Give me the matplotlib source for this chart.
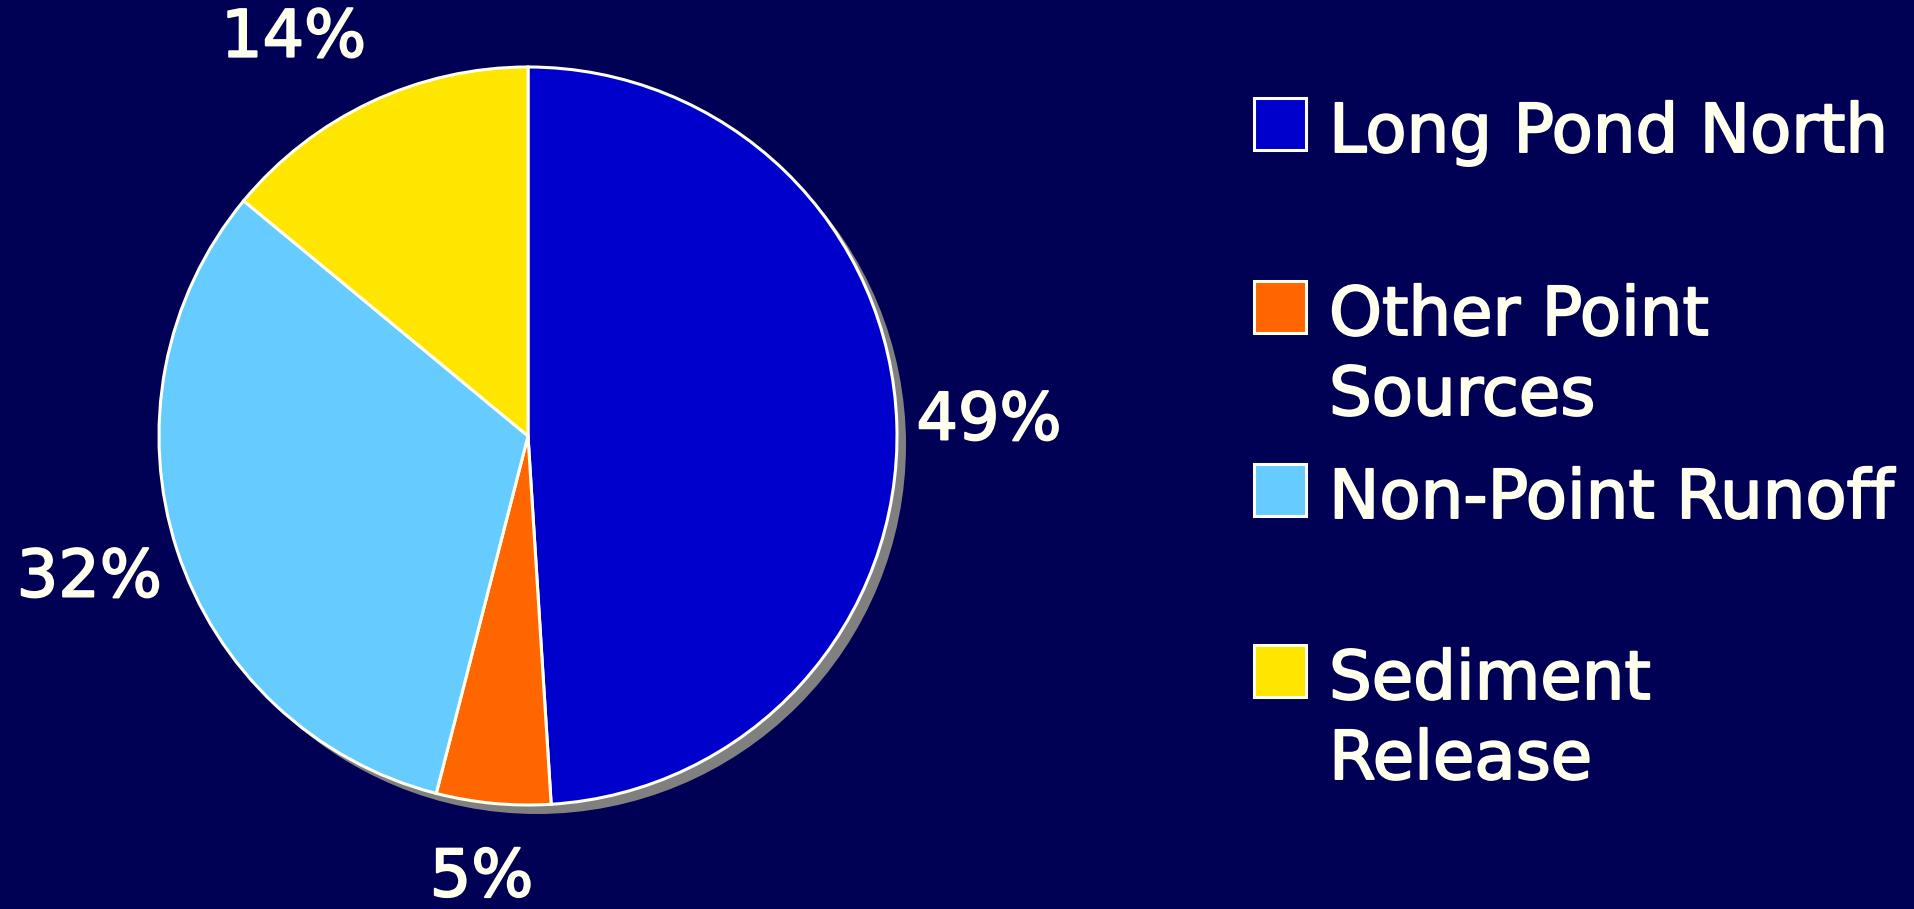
import matplotlib
matplotlib.use("Agg")
import matplotlib.pyplot as plt
import matplotlib.patheffects as pe
from matplotlib.patches import Circle, Rectangle

# Phosphorus load shares by source
sources = ["Long Pond North", "Other Point\nSources", "Non-Point Runoff", "Sediment\nRelease"]
shares = [49, 5, 32, 14]
colors = ["#0000CC", "#FF6600", "#66CCFF", "#FFE600"]

bg = "#000055"
ink = "#FFFFEE"
heavy = [pe.withStroke(linewidth=1.4, foreground=ink)]

W, H = 1915, 909
fig = plt.figure(figsize=(W / 100, H / 100), dpi=100, facecolor=bg)
ax = fig.add_axes([0, 0, 1, 1])
ax.set_facecolor(bg)

cx, cy, r = 528, 473, 369

# drop shadow behind the pie
ax.add_patch(Circle((cx + 9, cy - 9), r, facecolor="#808080", edgecolor="none", zorder=1))

wedges, _, pct_texts = ax.pie(
    shares,
    colors=colors,
    startangle=90,
    counterclock=False,
    center=(cx, cy),
    radius=r,
    autopct=lambda p: f"{p:.0f}%",
    pctdistance=1.25,
    wedgeprops=dict(edgecolor=ink, linewidth=2.2),
    textprops=dict(color=ink, fontsize=47, family="DejaVu Sans"),
    frame=True,
)
for w in wedges:
    w.set_zorder(2)

# small nudges so the outer labels sit clear of the figure edge
nudges = [(0, 0), (-3, 17), (0, 0), (-38, -20)]
for t, (dx, dy) in zip(pct_texts, nudges):
    x, y = t.get_position()
    t.set_position((x + dx, y + dy))
    t.set_path_effects(heavy)

ax.set_xlim(0, W)
ax.set_ylim(0, H)
ax.set_aspect("equal")
ax.axis("off")

# legend: square swatches with wrapped labels
sq = 52
sq_x = 1254
text_x = 1329
tops = [98, 281, 464, 645]
line_gap = 80
for label, col, top in zip(sources, colors, tops):
    fig.patches.append(Rectangle((sq_x / W, 1 - (top + sq) / H), sq / W, sq / H,
                                 transform=fig.transFigure, facecolor=col,
                                 edgecolor=ink, linewidth=2.2))
    for i, line in enumerate(label.split("\n")):
        base = top + sq + 2 + i * line_gap
        fig.text(text_x / W, 1 - base / H, line, color=ink, fontsize=48.5,
                 family="DejaVu Sans", ha="left", va="baseline",
                 path_effects=heavy)

fig.savefig("out.png", dpi=100, facecolor=bg)
